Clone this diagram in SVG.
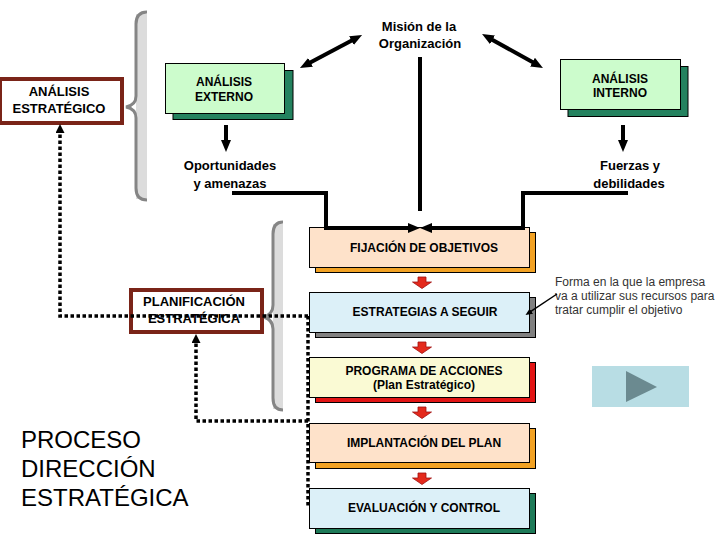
<svg xmlns="http://www.w3.org/2000/svg" xmlns:xlink="http://www.w3.org/1999/xlink" width="720" height="540" viewBox="0 0 720 540">
<style>
text{font-family:"Liberation Sans",Arial,sans-serif;fill:#000}
.b12{font-size:12px;font-weight:bold;text-anchor:middle}
.b13{font-size:13px;font-weight:bold;text-anchor:middle}
.note{font-size:12px;fill:#333}
.big{font-size:24px}
.front{stroke:#000;stroke-width:1}
.shadow{stroke:#000;stroke-width:1}
.redbox{fill:#fff;stroke:#7a2418;stroke-width:4}
.brace{fill:none;stroke:#858585;stroke-width:3}
.bracefill{fill:#dcdcdc}
.thick{fill:none;stroke:#000;stroke-width:4}
.dot{fill:none;stroke:#000;stroke-width:3.5;stroke-dasharray:3.5 2.5}
</style>
<defs>
<marker id="ah" viewBox="0 0 12 10" refX="3" refY="5" markerWidth="12" markerHeight="10" markerUnits="userSpaceOnUse" orient="auto-start-reverse">
<path d="M0,0 L12,5 L0,10 z" fill="#000"/>
</marker>
<marker id="ahd" viewBox="0 0 9 9" refX="2" refY="4.5" markerWidth="9" markerHeight="9" markerUnits="userSpaceOnUse" orient="auto">
<path d="M0,0 L9,4.5 L0,9 z" fill="#000"/>
</marker>
<marker id="ahs" viewBox="0 0 7 6" refX="1" refY="3" markerWidth="7" markerHeight="6" markerUnits="userSpaceOnUse" orient="auto">
<path d="M0,0 L7,3 L0,6 z" fill="#000"/>
</marker>
<path id="redArrow" d="M-4,0 H4 V5 H9.5 L0,11.5 L-9.5,5 H-4 z" fill="#e42a1c" stroke="#a01010" stroke-width="0.8"/>
</defs>
<rect width="720" height="540" fill="#fff"/>

<g id="braces">
<rect class="bracefill" x="136" y="14" width="11" height="185"/>
<path class="brace" d="M147,12 Q136,12 136,24 L136,96 Q136,105 126,107 Q136,109 136,118 L136,188 Q136,200 147,200"/>
<rect class="bracefill" x="273" y="224" width="10" height="185"/>
<path class="brace" d="M283,222 Q273,222 273,234 L273,305 Q273,314 264,317 Q273,320 273,329 L273,398 Q273,410 283,410"/>
</g>

<g id="analisis-estrategico">
<rect class="redbox" x="0" y="79" width="122" height="44"/>
<text class="b13" x="59" y="96">ANÁLISIS</text>
<text class="b13" x="59" y="113">ESTRATÉGICO</text>
</g>

<g id="analisis-externo">
<rect class="shadow" x="173" y="70.5" width="120" height="49" fill="#24825f"/>
<rect class="front" x="165.5" y="63.5" width="119" height="50" fill="#ccfccc"/>
<text class="b12" x="224" y="86">ANÁLISIS</text>
<text class="b12" x="224" y="101">EXTERNO</text>
</g>

<g id="analisis-interno">
<rect class="shadow" x="568" y="66.5" width="120" height="50" fill="#24825f"/>
<rect class="front" x="560.5" y="59.5" width="120" height="50" fill="#ccfccc"/>
<text class="b12" x="620" y="83">ANÁLISIS</text>
<text class="b12" x="620" y="97">INTERNO</text>
</g>

<g id="mision">
<text class="b13" x="419" y="31">Misión de la</text>
<text class="b13" x="420" y="48">Organización</text>
</g>

<g id="oportunidades">
<text class="b13" x="230" y="170">Oportunidades</text>
<text class="b13" x="230" y="188">y amenazas</text>
</g>

<g id="fuerzas">
<text class="b13" x="630" y="170">Fuerzas y</text>
<text class="b13" x="629" y="188">debilidades</text>
</g>

<g id="fijacion">
<rect class="shadow" x="315.5" y="232.5" width="220" height="40" fill="#f2a224"/>
<rect class="front" x="309.5" y="227.5" width="220" height="40" fill="#fee2ca"/>
<text class="b12" x="424" y="252">FIJACIÓN DE OBJETIVOS</text>
</g>

<g id="estrategias">
<rect class="shadow" x="315.5" y="297.5" width="220" height="40" fill="#808080"/>
<rect class="front" x="309.5" y="292.5" width="220" height="40" fill="#dcf0f8"/>
<text class="b12" x="425" y="316">ESTRATEGIAS A SEGUIR</text>
</g>

<g id="programa">
<rect class="shadow" x="315.5" y="362.5" width="220" height="40" fill="#e21414"/>
<rect class="front" x="309.5" y="357.5" width="220" height="40" fill="#fafad4"/>
<text class="b12" x="424" y="375">PROGRAMA DE ACCIONES</text>
<text class="b12" x="424" y="389">(Plan Estratégico)</text>
</g>

<g id="implantacion">
<rect class="shadow" x="315.5" y="428.5" width="220" height="40" fill="#f2a224"/>
<rect class="front" x="309.5" y="423.5" width="220" height="39" fill="#fee2ca"/>
<text class="b12" x="424" y="447">IMPLANTACIÓN DEL PLAN</text>
</g>

<g id="evaluacion">
<rect class="shadow" x="315.5" y="493.5" width="220" height="40" fill="#1e7a58"/>
<rect class="front" x="309.5" y="488.5" width="220" height="40" fill="#dcf0f8"/>
<text class="b12" x="424" y="512">EVALUACIÓN Y CONTROL</text>
</g>

<g id="planificacion">
<rect class="redbox" x="131" y="290" width="131" height="42"/>
<text class="b13" x="194" y="306">PLANIFICACIÓN</text>
<text class="b13" x="194" y="323">ESTRATÉGICA</text>
</g>

<g id="nota">
<text class="note" x="555" y="286">Forma en la que la empresa</text>
<text class="note" x="555" y="300">va a utilizar sus recursos para</text>
<text class="note" x="555" y="314">tratar cumplir el objetivo</text>
</g>

<g id="proceso">
<text class="big" x="21" y="448">PROCESO</text>
<text class="big" x="21" y="477">DIRECCIÓN</text>
<text class="big" x="21" y="506">ESTRATÉGICA</text>
</g>

<g id="boton">
<rect x="592" y="366" width="97" height="41" fill="#b8dde4"/>
<path d="M626,371 L657,387 L626,402 z" fill="#6b8a90"/>
</g>

<g id="connectors">
<line class="thick" x1="307.9" y1="63.8" x2="354.1" y2="39.2" marker-start="url(#ah)" marker-end="url(#ah)"/>
<line class="thick" x1="489.9" y1="38.4" x2="535.1" y2="63.6" marker-start="url(#ah)" marker-end="url(#ah)"/>
<line class="thick" x1="226" y1="125" x2="226" y2="143" marker-end="url(#ah)"/>
<line class="thick" x1="623" y1="125" x2="623" y2="143" marker-end="url(#ah)"/>
<line class="thick" x1="420" y1="57" x2="420" y2="211"/>
<path class="thick" d="M232,193 H326 V228 H411" marker-end="url(#ah)"/>
<path class="thick" d="M628,193 H523 V228 H429" marker-end="url(#ah)"/>
<use xlink:href="#redArrow" x="422" y="277"/>
<use xlink:href="#redArrow" x="422" y="342"/>
<use xlink:href="#redArrow" x="422" y="407"/>
<use xlink:href="#redArrow" x="422" y="473"/>
<path class="dot" d="M308,316 H60 V131" marker-end="url(#ahd)"/>
<path class="dot" d="M308,316 V508"/>
<path class="dot" d="M308,421 H196 V341" marker-end="url(#ahd)"/>
<line x1="557" y1="294" x2="530.5" y2="311.7" stroke="#000" stroke-width="1.5" marker-end="url(#ahs)"/>
</g>
</svg>
